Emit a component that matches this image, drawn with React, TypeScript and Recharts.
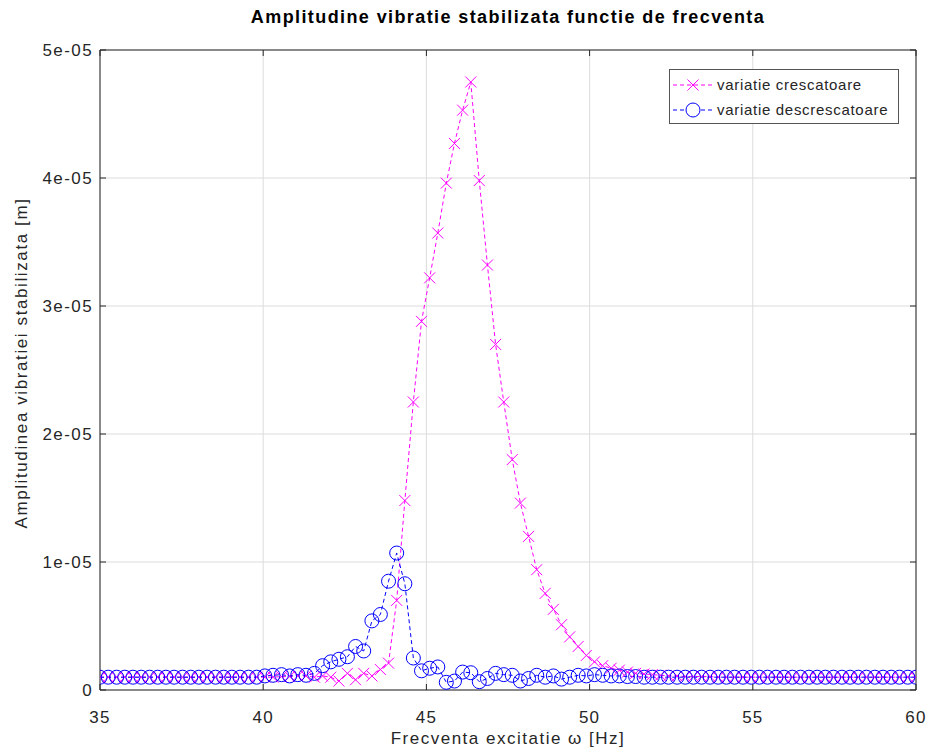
import { LineChart, Line, XAxis, YAxis, CartesianGrid } from "recharts";

// frequency grid, Hz (100 points from 35 to 60)
const freqHz = [
  35.0, 35.25, 35.51, 35.76, 36.01, 36.26, 36.52, 36.77, 37.02, 37.27,
  37.53, 37.78, 38.03, 38.28, 38.54, 38.79, 39.04, 39.29, 39.55, 39.8,
  40.05, 40.3, 40.56, 40.81, 41.06, 41.31, 41.57, 41.82, 42.07, 42.32,
  42.58, 42.83, 43.08, 43.33, 43.59, 43.84, 44.09, 44.34, 44.6, 44.85,
  45.1, 45.35, 45.61, 45.86, 46.11, 46.36, 46.62, 46.87, 47.12, 47.37,
  47.63, 47.88, 48.13, 48.38, 48.64, 48.89, 49.14, 49.39, 49.65, 49.9,
  50.15, 50.4, 50.66, 50.91, 51.16, 51.41, 51.67, 51.92, 52.17, 52.42,
  52.68, 52.93, 53.18, 53.43, 53.69, 53.94, 54.19, 54.44, 54.7, 54.95,
  55.2, 55.45, 55.71, 55.96, 56.21, 56.46, 56.72, 56.97, 57.22, 57.47,
  57.73, 57.98, 58.23, 58.48, 58.74, 58.99, 59.24, 59.49, 59.75, 60.0,
];

// amplitude, micrometres (1e-6 m)
const crescUm = [
  1.0, 1.0, 1.0, 1.0, 1.0, 1.0, 1.0, 1.0, 1.0, 1.0,
  1.0, 1.0, 1.0, 1.0, 1.0, 1.0, 1.0, 1.0, 1.0, 1.0,
  1.0, 1.0, 1.05, 1.05, 1.1, 1.1, 1.0, 1.1, 1.0, 0.7,
  1.3, 0.8, 1.3, 1.1, 1.6, 2.1, 7.0, 14.8, 22.5, 28.8,
  32.2, 35.7, 39.6, 42.7, 45.3, 47.5, 39.8, 33.2, 27.0, 22.5,
  18.0, 14.6, 12.0, 9.4, 7.55, 6.3, 5.1, 4.15, 3.4, 2.7,
  2.2, 1.9, 1.7, 1.55, 1.4, 1.3, 1.25, 1.2, 1.15, 1.1,
  1.1, 1.05, 1.05, 1.05, 1.05, 1.0, 1.0, 1.0, 1.0, 1.0,
  1.0, 1.0, 1.0, 1.0, 1.0, 1.0, 1.0, 1.0, 1.0, 1.0,
  1.0, 1.0, 1.0, 1.0, 1.0, 1.0, 1.0, 1.0, 1.0, 1.0,
];

const descrUm = [
  1.0, 1.0, 1.0, 1.0, 1.0, 1.0, 1.0, 1.0, 1.0, 1.0,
  1.0, 1.0, 1.0, 1.0, 1.0, 1.0, 1.0, 1.0, 1.0, 1.0,
  1.1, 1.15, 1.2, 1.1, 1.2, 1.15, 1.3, 1.9, 2.2, 2.4,
  2.6, 3.4, 3.05, 5.4, 5.9, 8.5, 10.7, 8.3, 2.5, 1.5,
  1.7, 1.8, 0.6, 0.7, 1.4, 1.35, 0.65, 0.9, 1.3, 1.2,
  1.15, 0.7, 0.9, 1.15, 1.0, 1.1, 0.85, 1.0, 1.15, 1.1,
  1.2, 1.15, 1.1, 1.1, 1.05, 1.05, 1.0, 1.0, 1.0, 1.0,
  1.0, 1.0, 1.0, 1.0, 1.0, 1.0, 1.0, 1.0, 1.0, 1.0,
  1.0, 1.0, 1.0, 1.0, 1.0, 1.0, 1.0, 1.0, 1.0, 1.0,
  1.0, 1.0, 1.0, 1.0, 1.0, 1.0, 1.0, 1.0, 1.0, 1.0,
];

const xTicks = [35, 40, 45, 50, 55, 60];
const yTicks = [0, 10, 20, 30, 40, 50];
const yTickLabels = ["0", "1e-05", "2e-05", "3e-05", "4e-05", "5e-05"];

const data = freqHz.map((f, i) => ({ f, cresc: crescUm[i], descr: descrUm[i] }));

const FONT = "'Liberation Sans', Arial, sans-serif";
const AXIS = "#262626";
const MAGENTA = "#ff00ff";
const BLUE = "#0000ff";

function XDot(props: any) {
  const { cx, cy, index } = props;
  if (cx == null || cy == null) return <g key={`x-${index}`} />;
  const s = 5.5;
  return (
    <g key={`x-${index}`} stroke={MAGENTA} strokeWidth={1}>
      <line x1={cx - s} y1={cy - s} x2={cx + s} y2={cy + s} />
      <line x1={cx - s} y1={cy + s} x2={cx + s} y2={cy - s} />
    </g>
  );
}

function ODot(props: any) {
  const { cx, cy, index } = props;
  if (cx == null || cy == null) return <g key={`o-${index}`} />;
  return <circle key={`o-${index}`} cx={cx} cy={cy} r={7} fill="none" stroke={BLUE} strokeWidth={1} />;
}

function BottomTick(props: any) {
  const { x, y, payload } = props;
  return (
    <g>
      <line x1={x} y1={y} x2={x} y2={y - 6} stroke={AXIS} />
      <text x={x} y={y + 33} textAnchor="middle" fontSize={17} letterSpacing={1.2} fill={AXIS} fontFamily={FONT}>
        {payload.value}
      </text>
    </g>
  );
}

function LeftTick(props: any) {
  const { x, y, payload } = props;
  const i = yTicks.indexOf(payload.value);
  return (
    <g>
      <line x1={x} y1={y} x2={x + 6} y2={y} stroke={AXIS} />
      <text x={x - 7} y={y + 6} textAnchor="end" fontSize={17} letterSpacing={1.4} fill={AXIS} fontFamily={FONT}>
        {yTickLabels[i]}
      </text>
    </g>
  );
}

function TopTick(props: any) {
  const { x, y } = props;
  return <line x1={x} y1={y} x2={x} y2={y + 6} stroke={AXIS} />;
}

function RightTick(props: any) {
  const { x, y } = props;
  return <line x1={x} y1={y} x2={x - 6} y2={y} stroke={AXIS} />;
}

function LegendBox() {
  const rows = [
    { name: "variatie crescatoare", color: MAGENTA, kind: "x" },
    { name: "variatie descrescatoare", color: BLUE, kind: "o" },
  ];
  return (
    <svg width={230} height={55} style={{ display: "block" }}>
      <rect x={0.5} y={0.5} width={229} height={54} fill="#fff" stroke="#555" strokeWidth={1} />
      {rows.map((r, i) => {
        const cy = 16 + i * 25;
        return (
          <g key={r.name}>
            <line x1={4} y1={cy} x2={44} y2={cy} stroke={r.color} strokeDasharray="4 3" />
            {r.kind === "x" ? (
              <g stroke={r.color}>
                <line x1={18.5} y1={cy - 5.5} x2={29.5} y2={cy + 5.5} />
                <line x1={18.5} y1={cy + 5.5} x2={29.5} y2={cy - 5.5} />
              </g>
            ) : (
              <circle cx={24} cy={cy} r={7} fill="#fff" stroke={r.color} />
            )}
            <text x={48} y={cy + 5} fontSize={15} letterSpacing={0.7} fill={AXIS} fontFamily={FONT}>
              {r.name}
            </text>
          </g>
        );
      })}
    </svg>
  );
}

export default function App() {
  return (
    <div style={{ position: "absolute", left: 0, top: 0, width: 929, height: 752, background: "#fff" }}>
      <LineChart
        width={929}
        height={752}
        data={data}
        margin={{ top: 0, right: 0, bottom: 0, left: 0 }}
        style={{ position: "absolute", left: 0, top: 0 }}
      >
        <CartesianGrid xAxisId="b" yAxisId="l" stroke="#dcdcdc" strokeWidth={1} />
        <XAxis
          xAxisId="b" dataKey="f" type="number" domain={[35, 60]} ticks={xTicks}
          height={62} tickSize={0} tickMargin={0} tickLine={false} stroke={AXIS}
          tick={<BottomTick />} interval={0} allowDataOverflow
        />
        <XAxis
          xAxisId="t" orientation="top" dataKey="f" type="number" domain={[35, 60]} ticks={xTicks}
          height={50} tickSize={0} tickMargin={0} tickLine={false} stroke={AXIS}
          tick={<TopTick />} interval={0} allowDataOverflow
        />
        <YAxis
          yAxisId="l" type="number" domain={[0, 50]} ticks={yTicks} width={100}
          tickSize={0} tickMargin={0} tickLine={false} stroke={AXIS}
          tick={<LeftTick />} interval={0} allowDataOverflow
        />
        <YAxis
          yAxisId="r" orientation="right" type="number" domain={[0, 50]} ticks={yTicks} width={13}
          tickSize={0} tickMargin={0} tickLine={false} stroke={AXIS}
          tick={<RightTick />} interval={0} allowDataOverflow
        />
        <Line
          xAxisId="b" yAxisId="l" dataKey="cresc" name="variatie crescatoare" stroke={MAGENTA}
          strokeWidth={1} strokeDasharray="4 3" dot={(p: any) => <XDot {...p} key={`x-${p.index}`} />}
          activeDot={false} isAnimationActive={false}
        />
        <Line
          xAxisId="b" yAxisId="l" dataKey="descr" name="variatie descrescatoare" stroke={BLUE}
          strokeWidth={1} strokeDasharray="4 3" dot={(p: any) => <ODot {...p} key={`o-${p.index}`} />}
          activeDot={false} isAnimationActive={false}
        />
      </LineChart>
      <div style={{ position: "absolute", left: 669, top: 69 }}>
        <LegendBox />
      </div>
      <div
        style={{
          position: "absolute", left: 100, width: 816, top: 7, textAlign: "center",
          fontFamily: FONT, fontWeight: "bold", fontSize: 18, letterSpacing: 1.4, color: "#000",
        }}
      >
        Amplitudine vibratie stabilizata functie de frecventa
      </div>
      <div
        style={{
          position: "absolute", left: 100, width: 816, top: 729, textAlign: "center",
          fontFamily: FONT, fontSize: 17, letterSpacing: 1.5, color: AXIS,
        }}
      >
        Frecventa excitatie ω [Hz]
      </div>
      <div style={{ position: "absolute", left: 22, top: 364, width: 0, height: 0 }}>
        <div
          style={{
            position: "absolute", left: -250, top: -11, width: 500, textAlign: "center",
            transform: "rotate(-90deg)", fontFamily: FONT, fontSize: 17, letterSpacing: 1.6,
            color: AXIS, whiteSpace: "nowrap",
          }}
        >
          Amplitudinea vibratiei stabilizata [m]
        </div>
      </div>
    </div>
  );
}
